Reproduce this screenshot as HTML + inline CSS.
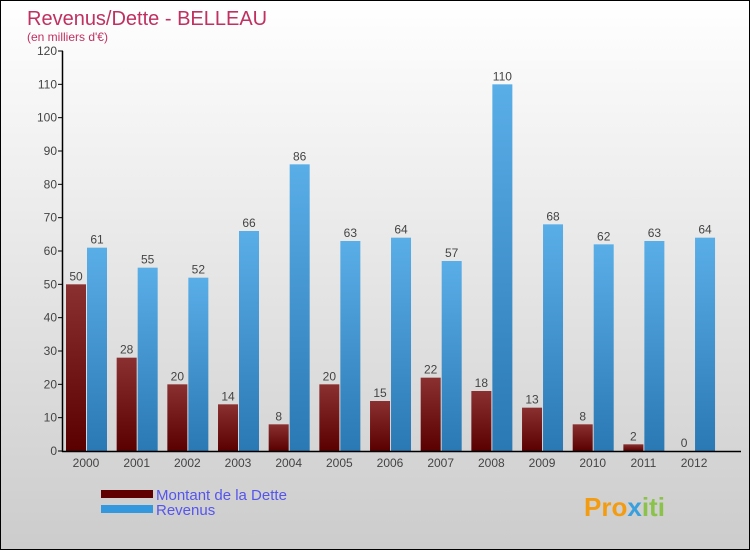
<!DOCTYPE html>
<html><head><meta charset="utf-8"><style>
body{margin:0}
#c{width:750px;height:550px;position:relative;overflow:hidden;box-sizing:border-box;border:1px solid #000;background:linear-gradient(#fff,#ccc);font-family:"Liberation Sans",sans-serif}
text{font-family:"Liberation Sans",sans-serif}
</style></head><body>
<div id="c">
<svg id="s" width="750" height="550">
<defs>
<linearGradient id="gd" x1="0" y1="0" x2="0" y2="1"><stop offset="0" stop-color="#8a3030"/><stop offset="1" stop-color="#5a0000"/></linearGradient>
<linearGradient id="gr" x1="0" y1="0" x2="0" y2="1"><stop offset="0" stop-color="#5aaee8"/><stop offset="1" stop-color="#2a78b4"/></linearGradient>
</defs>
<text x="26" y="24" font-size="20" fill="#c03060">Revenus/Dette - BELLEAU</text>
<text x="26" y="40" font-size="12" fill="#c03060">(en milliers d'€)</text>
<g id="plot"></g>
<rect x="100" y="489" width="52" height="8" fill="#600000"/>
<text x="155" y="499" font-size="15" fill="#5555ee">Montant de la Dette</text>
<rect x="100" y="504" width="52" height="8" fill="#3398dd"/>
<text x="155" y="514" font-size="15" fill="#5555ee">Revenus</text>
<text x="583" y="515" font-size="26" font-weight="bold" fill="#f39c12">Pro<tspan fill="#3aa0dd">x</tspan><tspan fill="#8bc34a">iti</tspan></text>
</svg>
</div>
<script>
const years=["2000","2001","2002","2003","2004","2005","2006","2007","2008","2009","2010","2011","2012"];
const dette=[50,28,20,14,8,20,15,22,18,13,8,2,0];
const revenus=[61,55,52,66,86,63,64,57,110,68,62,63,64];
const ticks=[0,10,20,30,40,50,60,70,80,90,100,110,120];
const NS="http://www.w3.org/2000/svg";
const g=document.getElementById('plot');
const y0=450,y1=50,vmax=120;
function y(v){return y0-(v/vmax)*(y0-y1);}
function xc(i){return 85+i*50.67;}
function mk(t,a,txt){const e=document.createElementNS(NS,t);for(const k in a)e.setAttribute(k,a[k]);if(txt!==undefined)e.textContent=txt;g.appendChild(e);return e;}
ticks.forEach(t=>{
const l=mk('line',{x1:57,x2:62,y1:y(t),y2:y(t),stroke:'#000'});


const tx=mk('text',{x:56,y:y(t)+4,'font-size':12,fill:'#444','text-anchor':'end'},t);


});
years.forEach((yr,i)=>{
const c=xc(i);
const d=mk('rect',{x:c-20,y:y(dette[i]),width:20,height:y0-y(dette[i]),fill:'url(#gd)'});


const r=mk('rect',{x:c+1,y:y(revenus[i]),width:20,height:y0-y(revenus[i]),fill:'url(#gr)'});


const dl=mk('text',{x:c-10,y:y(dette[i])-4,'font-size':12,fill:'#444','text-anchor':'middle'},dette[i]);


const rl=mk('text',{x:c+11,y:y(revenus[i])-4,'font-size':12,fill:'#444','text-anchor':'middle'},revenus[i]);


const xl=mk('text',{x:c,y:466,'font-size':12,fill:'#444','text-anchor':'middle'},yr);


});
const ya=mk('line',{x1:61.5,x2:61.5,y1:y1,y2:y0+1,stroke:'#000','stroke-width':1.5});


const xa=mk('line',{x1:61,x2:740,y1:y0+0.5,y2:y0+0.5,stroke:'#000','stroke-width':1.5});


</script>
</body></html>
